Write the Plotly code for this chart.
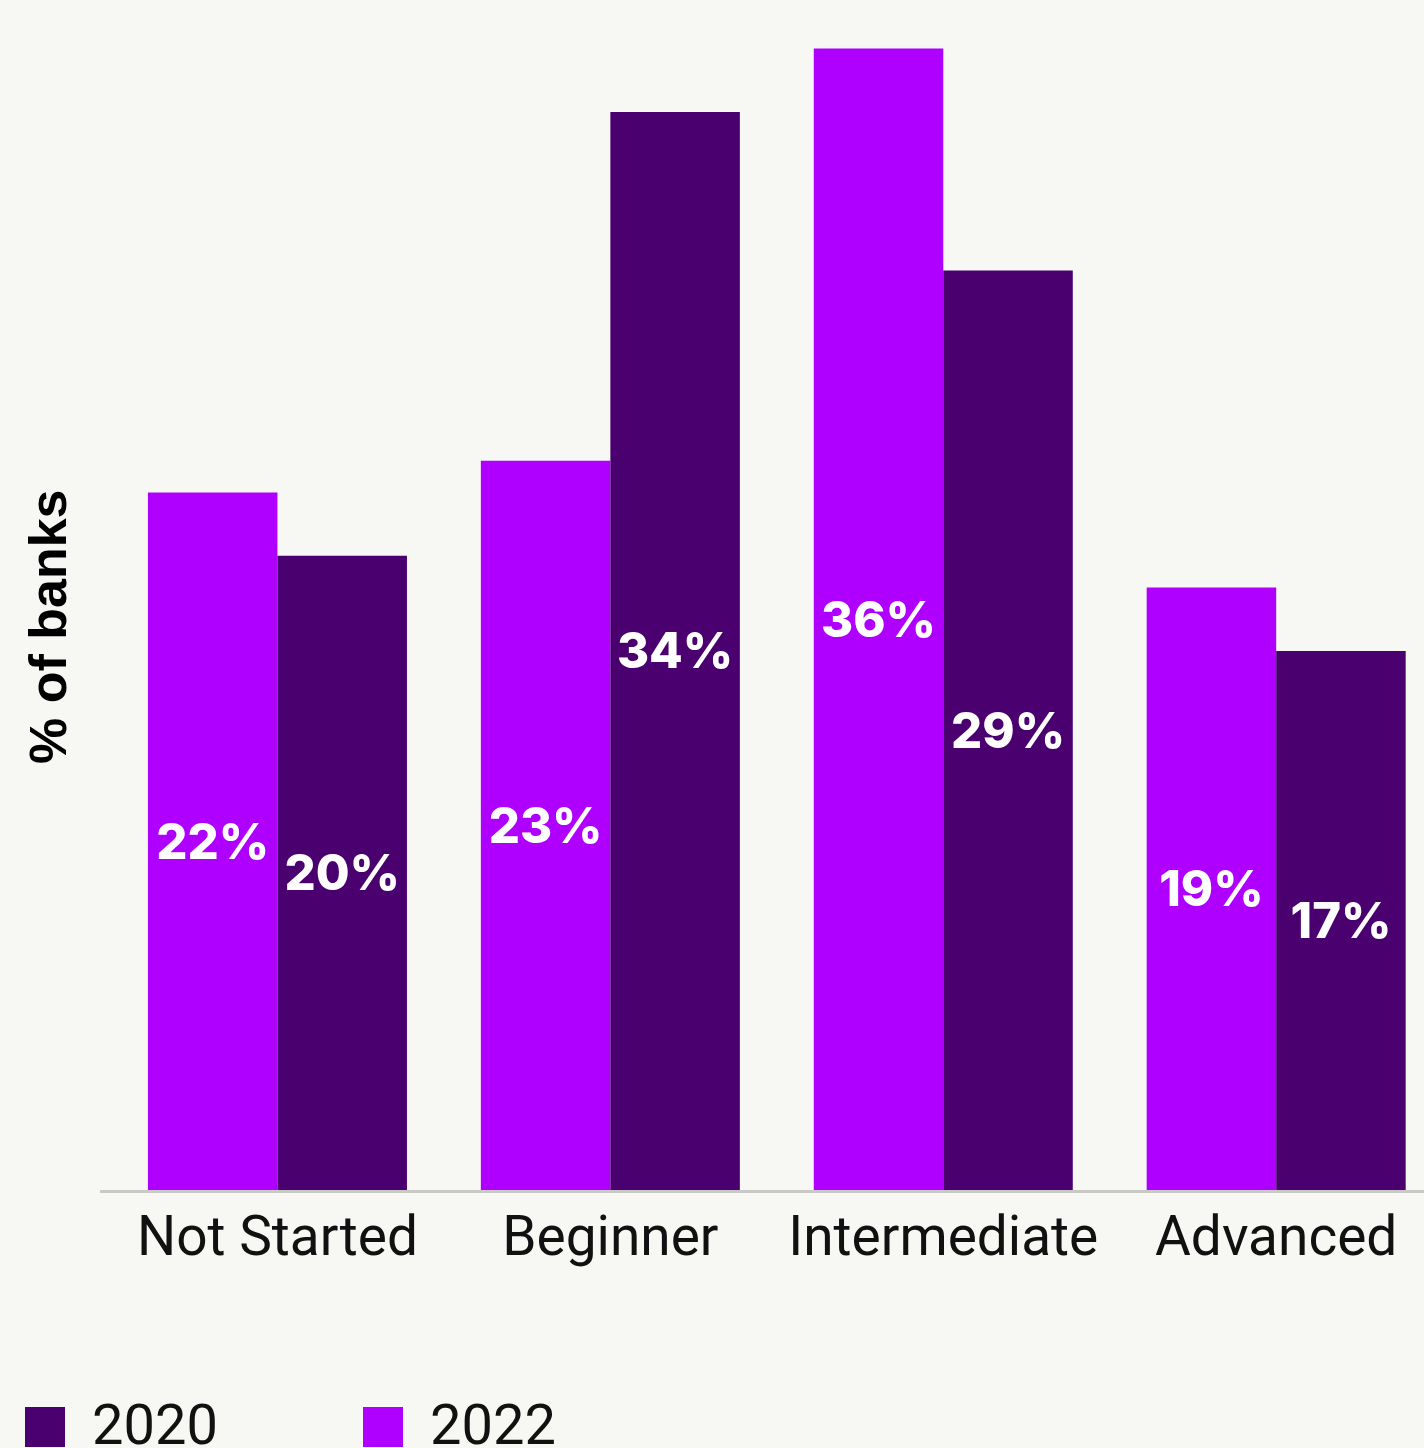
import plotly.graph_objects as go

# Share of banks by maturity stage
categories = ["Not Started", "Beginner", "Intermediate", "Advanced"]
values_2022 = [22, 23, 36, 19]
values_2020 = [20, 34, 29, 17]
series_names = ["2022", "2020"]
labels_2022 = [f"{v}%" for v in values_2022]
labels_2020 = [f"{v}%" for v in values_2020]

COLOR_2022 = "#AF00FF"
COLOR_2020 = "#4B0070"
BG = "#F7F7F3"

W, H = 1424, 1448
L, R, T, B = 100, 0, 20, 258
plot_w = W - L - R
plot_h = H - T - B


def px_x(px):
    return (px - L) / plot_w


def px_y(py):
    return (H - B - py) / plot_h


bar_text = dict(family="Inter, Roboto, sans-serif", size=49, color="white", weight=800)

fig = go.Figure()
fig.add_trace(go.Bar(
    name=series_names[0], x=categories, y=values_2022,
    marker=dict(color=COLOR_2022, line=dict(width=0)),
    text=labels_2022, textposition="inside", insidetextanchor="middle",
    textfont=bar_text, showlegend=False, hoverinfo="skip",
))
fig.add_trace(go.Bar(
    name=series_names[1], x=categories, y=values_2020,
    marker=dict(color=COLOR_2020, line=dict(width=0)),
    text=labels_2020, textposition="inside", insidetextanchor="middle",
    textfont=bar_text, showlegend=False, hoverinfo="skip",
))

# Legend drawn as squares + labels along the bottom
legend_items = [("2020", COLOR_2020, 25, 90), ("2022", COLOR_2022, 363, 428)]
shapes = []
annotations = []
for name, color, sq_x, txt_x in legend_items:
    shapes.append(dict(
        type="rect", xref="paper", yref="paper",
        x0=px_x(sq_x), x1=px_x(sq_x + 40), y0=px_y(1447), y1=px_y(1407),
        fillcolor=color, line=dict(width=0),
    ))
    annotations.append(dict(
        text=name, xref="paper", yref="paper", x=px_x(txt_x), y=px_y(1425),
        xanchor="left", yanchor="middle", showarrow=False,
        font=dict(family="Roboto", size=56, color="#111111"),
    ))

# Rotated y-axis title
annotations.append(dict(
    text="<b>% of banks</b>", xref="paper", yref="paper", x=px_x(48), y=px_y(627),
    xanchor="center", yanchor="middle", textangle=-90, showarrow=False,
    font=dict(family="Liberation Sans, Arial, sans-serif", size=52, color="#000000"),
))

fig.update_layout(
    width=W, height=H,
    margin=dict(l=L, r=R, t=T, b=B),
    paper_bgcolor=BG, plot_bgcolor=BG,
    barmode="group", bargap=0.222, bargroupgap=0,
    shapes=shapes, annotations=annotations,
    xaxis=dict(
        range=[-0.533, 3.444], showline=True, linecolor="#C9C9C5", linewidth=3,
        ticks="", showgrid=False, zeroline=False,
        tickfont=dict(family="Roboto", size=55, color="#111111"),
        ticklabelstandoff=-4,
    ),
    yaxis=dict(range=[0, 36.9], visible=False, showgrid=False, zeroline=False),
)

fig.write_html("out.html")
